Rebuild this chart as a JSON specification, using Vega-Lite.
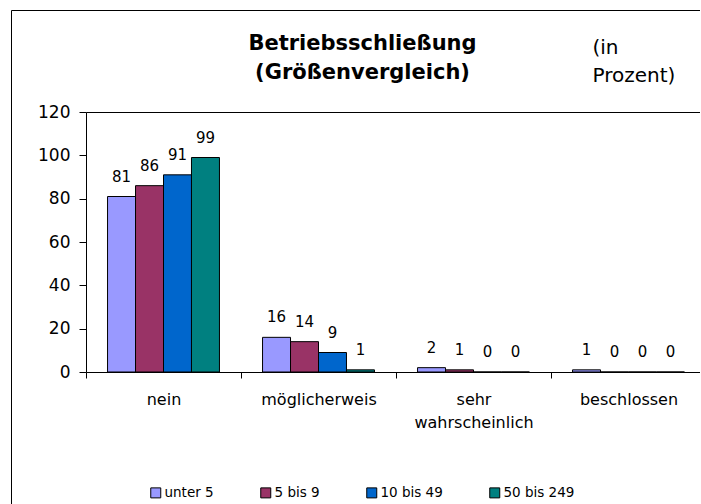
{
  "$schema": "https://vega.github.io/schema/vega-lite/v6.json",
  "width": 689,
  "height": 494,
  "autosize": {"type": "none"},
  "padding": {"left": 11, "top": 10, "right": 0, "bottom": 0},
  "background": "white",
  "config": {
    "view": {"stroke": null, "fill": "white"},
    "font": "DejaVu Sans",
    "axis": {
      "labelFont": "DejaVu Sans",
      "titleFont": "DejaVu Sans",
      "labelColor": "black",
      "titleColor": "black",
      "domainColor": "black",
      "tickColor": "black",
      "domainWidth": 1,
      "tickWidth": 1,
      "grid": false
    },
    "legend": {
      "orient": "none",
      "legendX": 138,
      "legendY": 476,
      "direction": "horizontal",
      "columns": 4,
      "symbolType": "square",
      "symbolSize": 100,
      "symbolStrokeColor": "black",
      "symbolStrokeWidth": 1,
      "symbolOpacity": 1,
      "labelFont": "DejaVu Sans",
      "labelFontSize": 13.5,
      "labelColor": "black",
      "labelOffset": 2,
      "columnPadding": 44,
      "padding": 0
    }
  },
  "data": {
    "values": [
      {"Kategorie": "nein", "Groesse": "unter 5", "Prozent": 81},
      {"Kategorie": "nein", "Groesse": "5 bis 9", "Prozent": 86},
      {"Kategorie": "nein", "Groesse": "10 bis 49", "Prozent": 91},
      {"Kategorie": "nein", "Groesse": "50 bis 249", "Prozent": 99},
      {"Kategorie": "möglicherweis", "Groesse": "unter 5", "Prozent": 16},
      {"Kategorie": "möglicherweis", "Groesse": "5 bis 9", "Prozent": 14},
      {"Kategorie": "möglicherweis", "Groesse": "10 bis 49", "Prozent": 9},
      {"Kategorie": "möglicherweis", "Groesse": "50 bis 249", "Prozent": 1},
      {"Kategorie": "sehr wahrscheinlich", "Groesse": "unter 5", "Prozent": 2},
      {"Kategorie": "sehr wahrscheinlich", "Groesse": "5 bis 9", "Prozent": 1},
      {"Kategorie": "sehr wahrscheinlich", "Groesse": "10 bis 49", "Prozent": 0},
      {"Kategorie": "sehr wahrscheinlich", "Groesse": "50 bis 249", "Prozent": 0},
      {"Kategorie": "beschlossen", "Groesse": "unter 5", "Prozent": 1},
      {"Kategorie": "beschlossen", "Groesse": "5 bis 9", "Prozent": 0},
      {"Kategorie": "beschlossen", "Groesse": "10 bis 49", "Prozent": 0},
      {"Kategorie": "beschlossen", "Groesse": "50 bis 249", "Prozent": 0}
    ]
  },
  "layer": [
    {
      "mark": {"type": "bar", "stroke": "black", "strokeWidth": 1},
      "encoding": {
        "x": {
          "field": "Kategorie",
          "type": "nominal",
          "sort": ["nein", "möglicherweis", "sehr wahrscheinlich", "beschlossen"],
          "scale": {"range": [75, 695], "paddingInner": 0, "paddingOuter": 0},
          "axis": {
            "orient": "bottom",
            "offset": -132,
            "tickBand": "extent",
            "tickSize": 6,
            "labelPadding": 13,
            "labelFontSize": 16,
            "labelAngle": 0,
            "labelBaseline": "top",
            "labelLineHeight": 23,
            "labelExpr": "datum.value == 'sehr wahrscheinlich' ? ['sehr', 'wahrscheinlich'] : datum.label",
            "title": null
          }
        },
        "xOffset": {
          "field": "Groesse",
          "type": "nominal",
          "sort": ["unter 5", "5 bis 9", "10 bis 49", "50 bis 249"],
          "scale": {"paddingInner": 0, "paddingOuter": 0.77}
        },
        "y": {
          "field": "Prozent",
          "type": "quantitative",
          "scale": {"domain": [0, 120], "range": [362, 102], "nice": false, "zero": true},
          "axis": {
            "orient": "left",
            "offset": -75,
            "values": [0, 20, 40, 60, 80, 100, 120],
            "tickSize": 7,
            "labelPadding": 9,
            "labelFontSize": 17,
            "title": ["(in", "Prozent)"],
            "titleAngle": 0,
            "titleX": 506,
            "titleY": 43,
            "titleAlign": "left",
            "titleBaseline": "alphabetic",
            "titleFontSize": 20,
            "titleFontWeight": "normal",
            "titleLineHeight": 28.5
          }
        },
        "color": {
          "field": "Groesse",
          "type": "nominal",
          "sort": ["unter 5", "5 bis 9", "10 bis 49", "50 bis 249"],
          "scale": {
            "domain": ["unter 5", "5 bis 9", "10 bis 49", "50 bis 249"],
            "range": ["#9999FF", "#993366", "#0066CC", "#008080"]
          },
          "legend": {"title": null}
        }
      }
    },
    {
      "mark": {"type": "text", "baseline": "alphabetic", "dy": -15, "fontSize": 15, "font": "DejaVu Sans", "color": "black"},
      "encoding": {
        "x": {
          "field": "Kategorie",
          "type": "nominal",
          "sort": ["nein", "möglicherweis", "sehr wahrscheinlich", "beschlossen"],
          "scale": {"range": [75, 695], "paddingInner": 0, "paddingOuter": 0},
          "axis": {
            "orient": "top",
            "offset": -102,
            "labels": false,
            "ticks": false,
            "domain": true,
            "title": ["Betriebsschließung", "(Größenvergleich)"],
            "titleX": 351,
            "titleY": -62.7,
            "titleAlign": "center",
            "titleBaseline": "alphabetic",
            "titleFontSize": 21,
            "titleFontWeight": "bold",
            "titleLineHeight": 29
          }
        },
        "xOffset": {
          "field": "Groesse",
          "type": "nominal",
          "sort": ["unter 5", "5 bis 9", "10 bis 49", "50 bis 249"],
          "scale": {"paddingInner": 0, "paddingOuter": 0.77}
        },
        "y": {
          "field": "Prozent",
          "type": "quantitative",
          "scale": {"domain": [0, 120], "range": [362, 102], "nice": false, "zero": true},
          "axis": null
        },
        "text": {"field": "Prozent", "type": "quantitative"}
      }
    },
    {
      "mark": {"type": "point", "opacity": 0},
      "encoding": {
        "x": {
          "field": "Prozent",
          "type": "quantitative",
          "scale": {"domain": [0, 120], "nice": false},
          "axis": {"orient": "top", "offset": 0, "labels": false, "ticks": false, "domain": true, "title": null}
        },
        "y": {
          "field": "Prozent",
          "type": "quantitative",
          "scale": {"domain": [0, 120], "nice": false},
          "axis": {"orient": "left", "offset": 0, "labels": false, "ticks": false, "domain": true, "title": null}
        }
      }
    }
  ],
  "resolve": {
    "scale": {"x": "independent", "y": "independent"},
    "axis": {"x": "independent", "y": "independent"}
  }
}
